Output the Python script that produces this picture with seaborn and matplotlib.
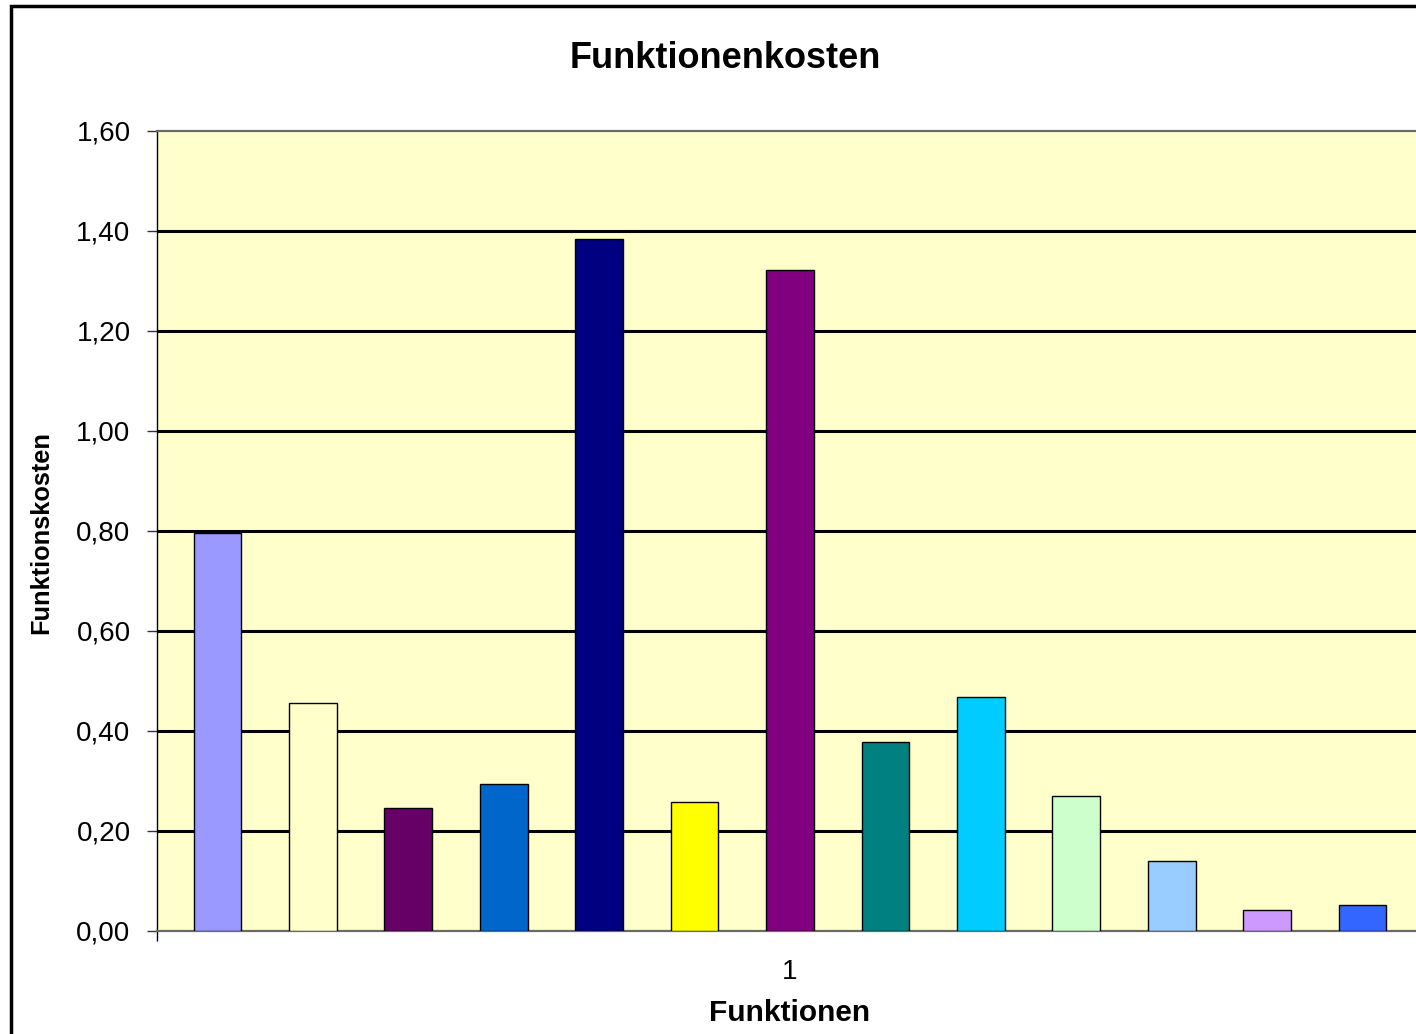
import matplotlib
matplotlib.use("Agg")
import matplotlib.pyplot as plt
import matplotlib.patches as mpatches
import seaborn as sns
import pandas as pd
from matplotlib.ticker import FuncFormatter, MultipleLocator, FixedLocator

# ---- data ----
category = "1"
functions = [f"F{i}" for i in range(1, 14)]
costs = [0.796, 0.456, 0.246, 0.294, 1.384, 0.258, 1.322, 0.378, 0.468, 0.270, 0.140, 0.042, 0.052]
colors = ["#9999FF", "#FFFFCC", "#660066", "#0066CC", "#000080", "#FFFF00", "#800080",
          "#008080", "#00CCFF", "#CCFFCC", "#99CCFF", "#CC99FF", "#3366FF"]
title = "Funktionenkosten"
xlabel = "Funktionen"
ylabel = "Funktionskosten"

df = pd.DataFrame({"Kategorie": [category] * len(functions),
                   "Funktion": functions,
                   "Kosten": costs})

sns.set_style("white")
plt.rcParams["font.family"] = ["Liberation Sans", "DejaVu Sans"]
plt.rcParams["text.color"] = "black"
plt.rcParams["axes.labelcolor"] = "black"
plt.rcParams["xtick.color"] = "black"
plt.rcParams["ytick.color"] = "black"

W, H = 1416, 1034
fig = plt.figure(figsize=(W / 100, H / 100), dpi=100)
ax_w = 1423 - 157
ax_h = 931 - 131
ax = fig.add_axes([157 / W, 1 - 931 / H, ax_w / W, ax_h / H])
ax.set_facecolor("#FFFFCC")

sns.barplot(data=df, x="Kategorie", y="Kosten", hue="Funktion", palette=colors,
            saturation=1, width=0.98, gap=0.5, dodge=True, edgecolor="black", linewidth=1.0,
            legend=False, ax=ax, zorder=3)

ax.set_xlim(-0.5, 0.5)
ax.set_ylim(0, 1.6)
ax.yaxis.set_major_locator(MultipleLocator(0.2))
ax.yaxis.set_major_formatter(FuncFormatter(lambda v, p: f"{v:.2f}".replace(".", ",")))

# gridlines (black, thick) behind bars
for v in [0.2, 0.4, 0.6, 0.8, 1.0, 1.2, 1.4]:
    ax.axhline(v, color="black", linewidth=2.2, zorder=1)

for s in ["top", "bottom"]:
    ax.spines[s].set_color("#6a6a6a")
    ax.spines[s].set_linewidth(1.6)
ax.spines["left"].set_color("black")
ax.spines["left"].set_linewidth(1.0)
ax.spines["right"].set_visible(False)

ax.tick_params(axis="y", which="major", direction="out", length=7, width=1, color="#333333",
               labelsize=20, pad=12, left=True)
ax.tick_params(axis="x", which="major", length=0, labelsize=20, pad=20)
ax.xaxis.set_minor_locator(FixedLocator([-0.5, 0.5]))
ax.tick_params(axis="x", which="minor", direction="out", length=7, width=1, color="black", bottom=True)

ax.set_xlabel(xlabel, fontsize=21.5, fontweight="bold")
ax.xaxis.set_label_coords(0.5, -(999 - 931) / ax_h)
ax.set_ylabel(ylabel, fontsize=18.3, fontweight="bold")
ax.yaxis.set_label_coords(-(157 - 53) / ax_w, (931 - 533) / ax_h)

fig.text(725 / W, 1 - 59 / H, title, fontsize=26, fontweight="bold", ha="center", va="center")

# outer chart frame
frame = mpatches.Rectangle((11 / W, -0.05), 1.2, 1 - 6 / H + 0.05, transform=fig.transFigure,
                           fill=False, edgecolor="black", linewidth=2.5, zorder=10)
fig.patches.append(frame)

fig.savefig("out.png", dpi=100)
